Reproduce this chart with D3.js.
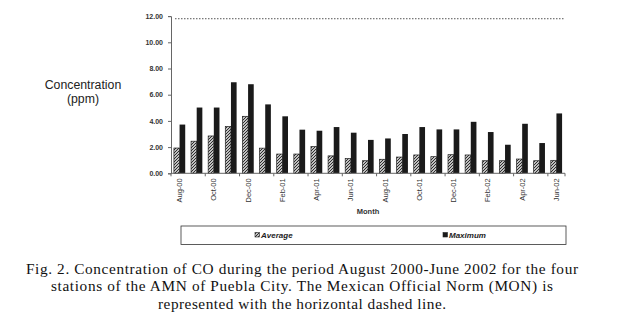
<!DOCTYPE html>
<html><head><meta charset="utf-8">
<script src="https://cdn.jsdelivr.net/npm/d3@7"></script>
<style>html,body{margin:0;padding:0;background:#fff;}svg{display:block;}</style>
</head><body>
<script>
const months = ["Aug-00","Sep-00","Oct-00","Nov-00","Dec-00","Jan-01","Feb-01","Mar-01","Apr-01","May-01","Jun-01","Jul-01","Aug-01","Sep-01","Oct-01","Nov-01","Dec-01","Jan-02","Feb-02","Mar-02","Apr-02","May-02","Jun-02"];
const averageValues = [1.93,2.45,2.85,3.57,4.35,1.92,1.47,1.47,2.04,1.33,1.13,0.96,1.07,1.24,1.40,1.27,1.42,1.40,0.96,0.96,1.09,0.96,0.99];
const maximumValues = [3.72,5.02,5.02,6.95,6.80,5.26,4.35,3.33,3.25,3.53,3.10,2.55,2.66,3.00,3.53,3.35,3.35,3.93,3.15,2.18,3.78,2.31,4.57];
const yTicks = [0,2,4,6,8,10,12];
const normValue = 11.8;
const seriesNames = ["Average","Maximum"];
const captionLines = [
  "Fig. 2. Concentration of CO during the period August 2000-June 2002 for the four",
  "stations of the AMN of Puebla City. The Mexican Official Norm (MON) is",
  "represented with the horizontal dashed line."
];

const W = 632, H = 331;
const svg = d3.select("body").append("svg").attr("width", W).attr("height", H);
const defs = svg.append("defs");
const pat = defs.append("pattern").attr("id","hatch").attr("patternUnits","userSpaceOnUse")
  .attr("width",3).attr("height",3);
pat.append("rect").attr("width",3).attr("height",3).attr("fill","#fff");
pat.append("path").attr("d","M-1,1 l2,-2 M0,3 l3,-3 M2,4 l2,-2").attr("stroke","#222").attr("stroke-width",1.1);

const x = d3.scaleBand().domain(months).range([171, 565]).paddingInner(0.34).paddingOuter(0.17);
const xs = d3.scaleBand().domain(seriesNames).range([0, x.bandwidth()]);
const y = d3.scaleLinear().domain([0, 12]).range([173.3, 16.1]);

// norm line
svg.append("line").attr("x1", 175).attr("x2", 565).attr("y1", y(normValue)).attr("y2", y(normValue))
  .attr("stroke","#555").attr("stroke-width",1).attr("stroke-dasharray","1.5,1.5");

// bars
const g = svg.append("g");
g.selectAll("rect.avg").data(months).join("rect").attr("class","avg")
  .attr("x", (d)=> x(d) + xs("Average")).attr("width", xs.bandwidth())
  .attr("y", (d,i)=> y(averageValues[i])).attr("height", (d,i)=> y(0) - y(averageValues[i]))
  .attr("fill","url(#hatch)").attr("stroke","#222").attr("stroke-width",0.7);
g.selectAll("rect.max").data(months).join("rect").attr("class","max")
  .attr("x", (d)=> x(d) + xs("Maximum")).attr("width", xs.bandwidth())
  .attr("y", (d,i)=> y(maximumValues[i])).attr("height", (d,i)=> y(0) - y(maximumValues[i]))
  .attr("fill","#1a1a1a");

// y axis
const yAxis = svg.append("g").attr("transform","translate(171,0)")
  .call(d3.axisLeft(y).tickValues(yTicks).tickFormat(d3.format(".2f")).tickSize(3).tickPadding(5));
yAxis.select(".domain").attr("stroke","#666");
yAxis.selectAll(".tick line").attr("stroke","#666");
yAxis.selectAll("text").attr("font-family","Liberation Sans, Arial, sans-serif").attr("font-size",7).attr("font-weight","bold").attr("fill","#333");

// x axis
const xAxisG = svg.append("g").attr("transform",`translate(0,${y(0)})`);
xAxisG.append("line").attr("x1",171).attr("x2",565).attr("y1",0).attr("y2",0).attr("stroke","#666");
const step = x.step();
const boundaries = months.map((d,i)=> i).filter(i=> i % 2 === 0).concat([months.length]);
xAxisG.selectAll("line.tk").data(boundaries).join("line").attr("class","tk")
  .attr("x1", i=> x.range()[0] + i*step).attr("x2", i=> x.range()[0] + i*step)
  .attr("y1",0).attr("y2",3).attr("stroke","#666");
xAxisG.selectAll("text").data(months.filter((d,i)=> i%2===0)).join("text")
  .attr("transform", d=> `translate(${x(d) + x.bandwidth()/2 + 2.5},5) rotate(-90)`)
  .attr("text-anchor","end").attr("font-family","Liberation Sans, Arial, sans-serif")
  .attr("font-size",7.5).attr("fill","#333").text(d=> d);

svg.append("text").attr("x",368).attr("y",214).attr("text-anchor","middle")
  .attr("font-family","Liberation Sans, Arial, sans-serif").attr("font-size",7.5).attr("font-weight","bold").attr("fill","#333").text("Month");

// y label
const ylFont = {"font-family":"Liberation Sans, Arial, sans-serif","font-size":12.3,"fill":"#222"};
[["Concentration",89],["(ppm)",102.5]].forEach(([t,yy])=>{
  const el = svg.append("text").attr("x",83).attr("y",yy).attr("text-anchor","middle").text(t);
  Object.entries(ylFont).forEach(([k,v])=> el.attr(k,v));
});

// legend
svg.append("rect").attr("x",181).attr("y",226).attr("width",385).attr("height",18.5).attr("fill","none").attr("stroke","#333").attr("stroke-width",0.8);
const legX = [255, 443];
seriesNames.forEach((s,i)=>{
  svg.append("rect").attr("x",legX[i]).attr("y",232.5).attr("width",4.5).attr("height",4.5)
    .attr("fill", i===0 ? "url(#hatch)" : "#1a1a1a").attr("stroke","#222").attr("stroke-width",0.6);
  svg.append("text").attr("x",legX[i]+6).attr("y",238).attr("font-family","Liberation Sans, Arial, sans-serif")
    .attr("font-size",8).attr("font-weight","bold").attr("font-style","italic").attr("fill","#222").text(s);
});

// caption
const capWidths = [552, 502, 288];
const capBase = [274, 291.3, 308.5];
svg.selectAll("text.cap").data(captionLines).join("text").attr("class","cap")
  .attr("x",302).attr("y",(d,i)=> capBase[i]).attr("text-anchor","middle")
  .attr("textLength",(d,i)=> capWidths[i]).attr("lengthAdjust","spacing")
  .attr("font-family","Liberation Serif, Times New Roman, serif").attr("font-size",15.3).attr("fill","#111").text(d=>d);
</script>
</body></html>
